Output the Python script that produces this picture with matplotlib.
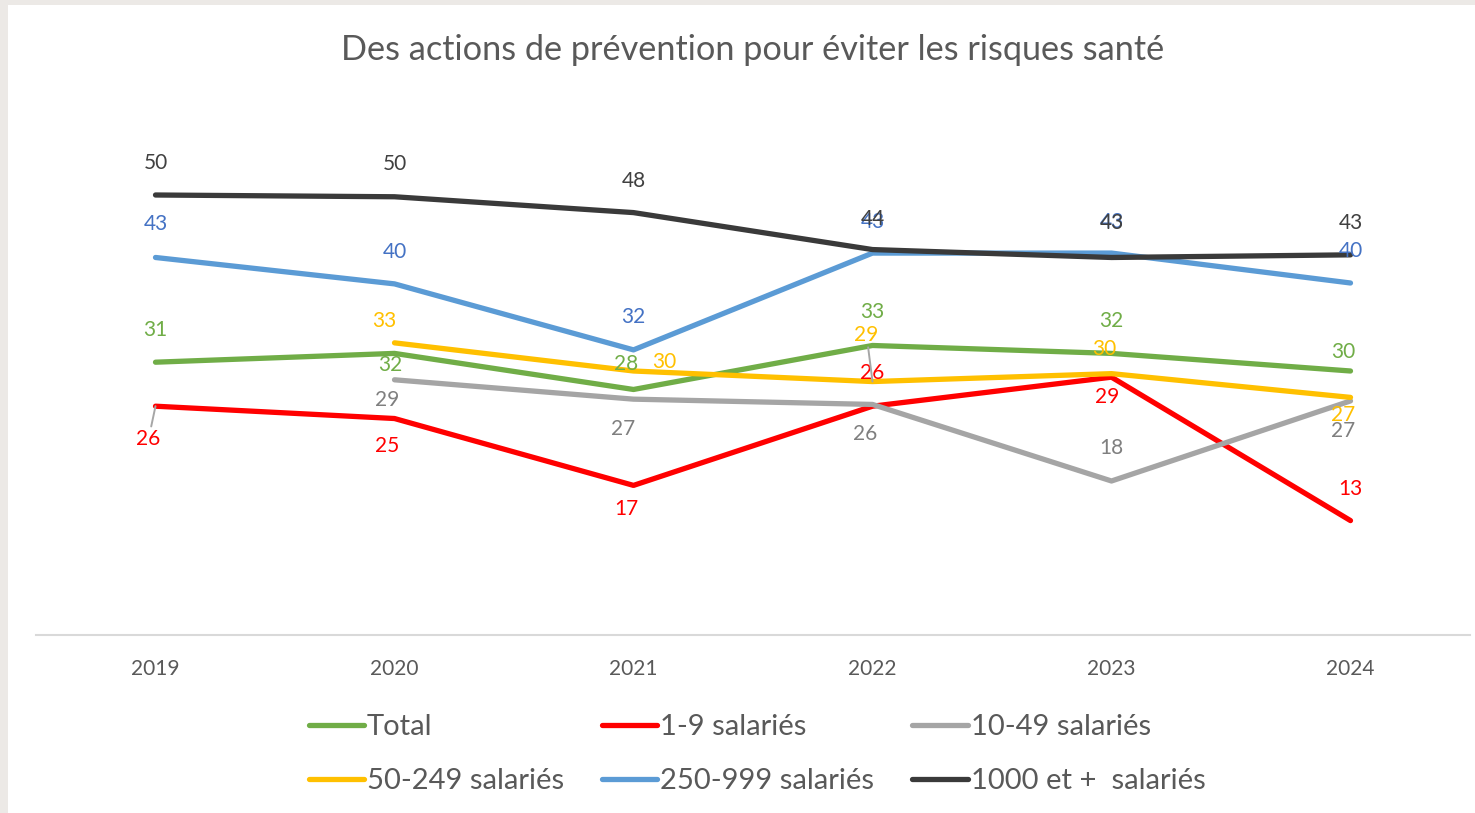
import numpy as np
import matplotlib.pyplot as plt
from matplotlib.patches import Rectangle

years = ["2019", "2020", "2021", "2022", "2023", "2024"]

total = [31.0, 32.0, 27.9, 32.9, 32.0, 30.0]
sal_1_9 = [26.0, 24.6, 17.0, 26.0, 29.3, 13.0]
sal_10_49 = [np.nan, 29.0, 26.8, 26.2, 17.5, 26.6]
sal_50_249 = [np.nan, 33.2, 30.0, 28.8, 29.7, 27.0]
sal_250_999 = [42.9, 39.9, 32.4, 43.4, 43.4, 40.0]
sal_1000 = [50.0, 49.8, 48.0, 43.8, 42.9, 43.2]

shown_total = [31, 32, 28, 33, 32, 30]
shown_1_9 = [26, 25, 17, 26, 29, 13]
shown_10_49 = [None, 29, 27, 26, 18, 27]
shown_50_249 = [None, 33, 30, 29, 30, 27]
shown_250_999 = [43, 40, 32, 43, 43, 40]
shown_1000 = [50, 50, 48, 44, 43, 43]

names = ["Total", "1-9 salariés", "10-49 salariés",
         "50-249 salariés", "250-999 salariés", "1000 et +  salariés"]


def main():
    plt.rcParams['font.family'] = ['Lato', 'DejaVu Sans']

    series = [total, sal_1_9, sal_10_49, sal_50_249, sal_250_999, sal_1000]
    shown = [shown_total, shown_1_9, shown_10_49, shown_50_249,
             shown_250_999, shown_1000]
    line_colors = ['#70AD47', '#FF0000', '#A5A5A5', '#FFC000', '#5B9BD5',
                   '#3A3A3A']
    text_colors = ['#70AD47', '#FF0000', '#7F7F7F', '#FFC000', '#4472C4',
                   '#404040']
    # label offsets in pixels (dx, dy screen-down) for each point
    offsets = [
        [(0, -32), (-4, 12), (-7, -25), (0, -33), (0, -32), (-7, -19)],
        [(-7, 33), (-7, 27), (-7, 24), (0, -33), (-4, 20), (0, -32)],
        [None, (-7, 20), (-10, 30), (-7, 30), (0, -33), (-7, 30)],
        [None, (-10, -22), (31, -9), (-6, -47), (-7, -25), (-7, 18)],
        [(0, -33), (0, -32), (0, -33), (0, -31), (0, -31), (0, -32)],
        [(0, -32), (0, -33), (0, -32), (0, -31), (0, -34), (0, -32)],
    ]
    leaders = {(1, 0), (3, 3)}

    fig = plt.figure(figsize=(14.75, 8.13), dpi=100)
    fig.patch.set_facecolor('#ECE9E6')
    fig.add_artist(Rectangle((8 / 1475, 0), 1, 808 / 813,
                             transform=fig.transFigure, facecolor='white',
                             edgecolor='none', zorder=-1))

    ax = fig.add_axes([36 / 1475, 178 / 813, 1434 / 1475, 528 / 813])
    ax.set_facecolor('none')
    x = np.arange(len(years))

    lines = []
    for vals, col, name in zip(series, line_colors, names):
        ln, = ax.plot(x, vals, color=col, lw=3.8, label=name,
                      solid_capstyle='round', solid_joinstyle='round')
        lines.append(ln)

    for i, (vals, lab) in enumerate(zip(series, shown)):
        for j, v in enumerate(lab):
            if v is None:
                continue
            dx, dy = offsets[i][j]
            arrow = None
            if (i, j) in leaders:
                arrow = dict(arrowstyle='-', color='#A6A6A6', lw=1.4,
                             shrinkA=0, shrinkB=0)
            ax.annotate(str(v), (x[j], vals[j]), xytext=(dx, -dy),
                        textcoords='offset pixels', ha='center',
                        va='center', fontsize=15, color=text_colors[i],
                        arrowprops=arrow)

    ax.set_xlim(-0.5, 5.5)
    ax.set_ylim(0, 60)
    ax.set_xticks(x)
    ax.set_xticklabels(years)
    ax.tick_params(axis='x', length=0, pad=17, labelsize=15,
                   labelcolor='#595959')
    ax.set_yticks([])
    for side in ['top', 'left', 'right']:
        ax.spines[side].set_visible(False)
    ax.spines['bottom'].set_color('#D9D9D9')
    ax.spines['bottom'].set_linewidth(1.5)

    fig.text(753 / 1475, 1 - 50 / 813,
             "Des actions de prévention pour éviter les risques santé",
             ha='center', va='center', fontsize=24.7, color='#595959')

    # matplotlib fills legend columns first: reorder to get row order
    order = [0, 3, 1, 4, 2, 5]
    leg = fig.legend([lines[k] for k in order], [names[k] for k in order],
                     loc='center', bbox_to_anchor=(757 / 1475, 1 - 754 / 813),
                     ncol=3, frameon=False, fontsize=21, handlelength=1.9,
                     handletextpad=0.1, columnspacing=1.3, labelspacing=0.95)
    for t in leg.get_texts():
        t.set_color('#595959')

    fig.savefig('out.png', dpi=100, facecolor=fig.get_facecolor())


if __name__ == "__main__":
    main()
